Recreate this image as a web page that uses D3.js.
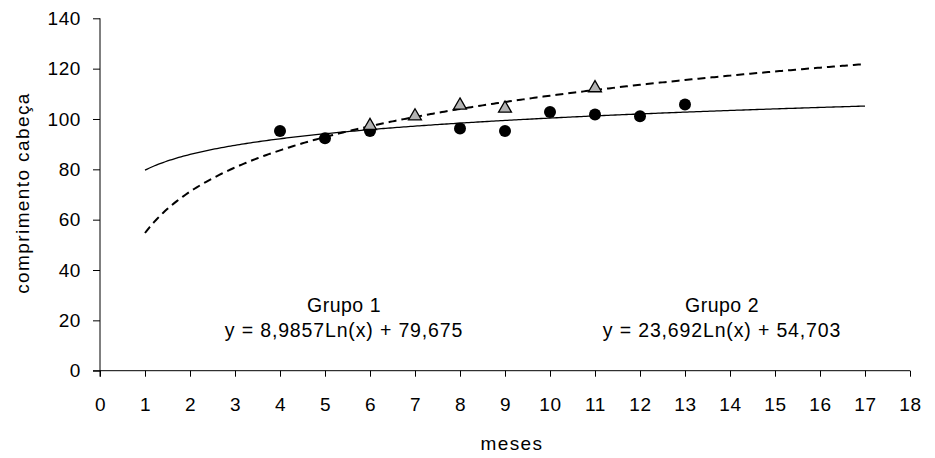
<!DOCTYPE html>
<html><head><meta charset="utf-8">
<script src="https://cdn.jsdelivr.net/npm/d3@7"></script>
<style>
html,body{margin:0;padding:0;background:#fff;}
text{font-family:"Liberation Sans",Arial,sans-serif;fill:#000;}
</style></head>
<body>
<svg id="chart" width="935" height="458"></svg>
<script>
// Data
const xTicks = [0,1,2,3,4,5,6,7,8,9,10,11,12,13,14,15,16,17,18];
const yTicks = [0,20,40,60,80,100,120,140];
const grupo1Meses = [4,5,6,8,9,10,11,12,13];
const grupo1Valores = [95.2,92.3,95.2,96.2,95.2,102.8,101.8,101.1,105.8];
const grupo2Meses = [6,7,8,9,11];
const grupo2Valores = [97.3,101.1,105.4,104.2,112.3];
const grupo1Coef = [8.9857,79.675];   // y = a ln(x) + b
const grupo2Coef = [23.692,54.703];
const trendRange = [1,17];
const grupo1Labels = ["Grupo 1","y = 8,9857Ln(x) + 79,675"];
const grupo2Labels = ["Grupo 2","y = 23,692Ln(x) + 54,703"];

const svg = d3.select("#chart");
const x = d3.scaleLinear().domain([0,18]).range([100,910]);
const y = d3.scaleLinear().domain([0,140]).range([370.7,18.3]);

// axes
const xAxis = d3.axisBottom(x).tickValues(xTicks).tickSize(6).tickSizeOuter(0).tickPadding(21);
const gx = svg.append("g").attr("transform",`translate(0,${y(0)})`).call(xAxis);
gx.select(".domain").attr("d",`M${x(0)-7},0H${x(18)}`);
const yAxis = d3.axisLeft(y).tickValues(yTicks).tickSize(7).tickSizeOuter(0).tickPadding(12);
const gy = svg.append("g").attr("transform",`translate(${x(0)},0)`).call(yAxis);
gy.select(".domain").attr("d",`M0,${y(140)}V${y(0)+6}`);
svg.selectAll(".tick text").style("font-size","19px").style("letter-spacing","0.6px").style("font-family","'Liberation Sans',Arial,sans-serif");
svg.selectAll(".domain,.tick line").attr("stroke","#000").attr("stroke-width",1);

// trend lines
function trend(coef){
  const pts=[];
  for(let i=0;i<=320;i++){const xv=trendRange[0]+(trendRange[1]-trendRange[0])*i/320; pts.push([xv,coef[0]*Math.log(xv)+coef[1]]);}
  return pts;
}
const line = d3.line().x(d=>x(d[0])).y(d=>y(d[1]));
svg.append("path").attr("d",line(trend(grupo1Coef))).attr("fill","none").attr("stroke","#000").attr("stroke-width",1.3);
svg.append("path").attr("d",line(trend(grupo2Coef))).attr("fill","none").attr("stroke","#000").attr("stroke-width",2).attr("stroke-dasharray","8,5");

// markers
svg.append("g").selectAll("circle").data(grupo1Meses).join("circle")
  .attr("cx",(d)=>x(d)).attr("cy",(d,i)=>y(grupo1Valores[i])).attr("r",6).attr("fill","#000");
const tri = d3.symbol().type(d3.symbolTriangle).size(72);
svg.append("g").selectAll("path").data(grupo2Meses).join("path")
  .attr("d",tri).attr("transform",(d,i)=>`translate(${x(d)},${y(grupo2Valores[i])})`)
  .attr("fill","#b3b3b3").attr("stroke","#000").attr("stroke-width",1.3);

// annotations
function label(lines,cx){
  svg.append("text").attr("x",cx).attr("y",311.5).attr("text-anchor","middle").style("font-size","19.5px").style("letter-spacing","0.5px").text(lines[0]);
  svg.append("text").attr("x",cx).attr("y",337).attr("text-anchor","middle").style("font-size","19.5px").style("letter-spacing","0.85px").text(lines[1]);
}
label(grupo1Labels,344);
label(grupo2Labels,722);

// axis titles
svg.append("text").attr("x",512).attr("y",450).attr("text-anchor","middle").style("font-size","19px").style("letter-spacing","1.4px").text("meses");
svg.append("text").attr("transform","translate(29,193) rotate(-90)").attr("text-anchor","middle").style("font-size","19px").style("letter-spacing","1.4px").text("comprimento cabeça");
</script>
</body></html>
